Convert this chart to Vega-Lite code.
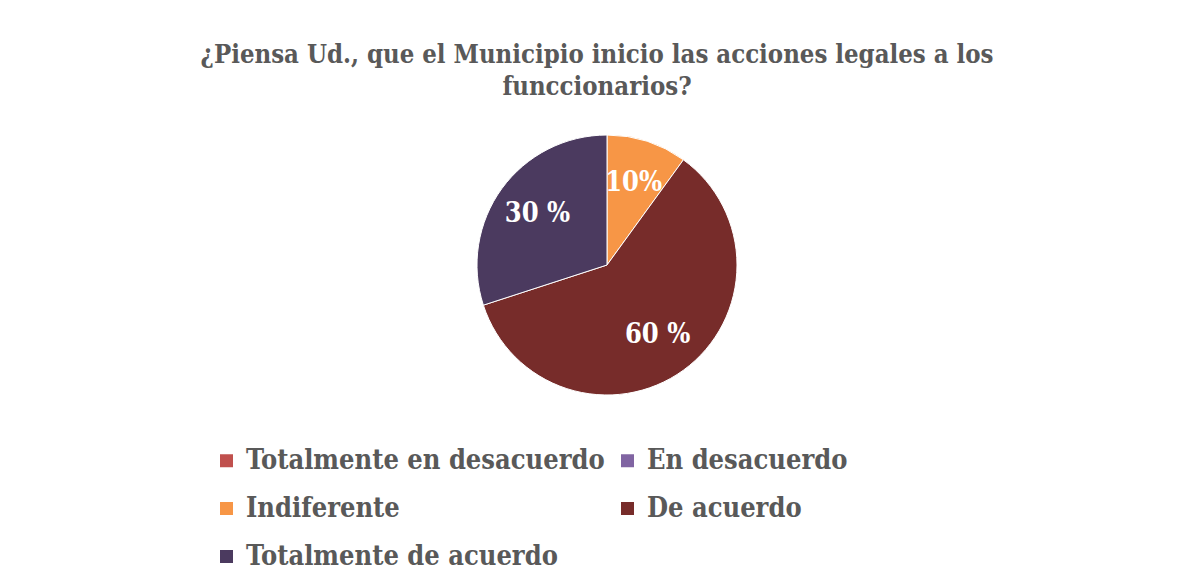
{
  "$schema": "https://vega.github.io/schema/vega-lite/v6.json",
  "autosize": {"type": "none"},
  "width": 1170,
  "height": 310,
  "padding": {"left": 22, "top": 110, "right": 0, "bottom": 167},
  "background": "white",
  "title": {
    "text": ["¿Piensa Ud., que el Municipio inicio las acciones legales a los", "funccionarios?"],
    "font": "DejaVu Serif Condensed",
    "fontSize": 25.5,
    "fontWeight": "bold",
    "color": "#595959",
    "anchor": "middle",
    "frame": "group",
    "lineHeight": 32,
    "offset": 10,
    "dx": -10
  },
  "data": {
    "values": [
      {"categoria": "Totalmente en  desacuerdo", "valor": 0, "orden": 1, "etiqueta": ""},
      {"categoria": "En desacuerdo", "valor": 0, "orden": 2, "etiqueta": ""},
      {"categoria": "Indiferente", "valor": 10, "orden": 3, "etiqueta": "10%"},
      {"categoria": "De acuerdo", "valor": 60, "orden": 4, "etiqueta": "60 %"},
      {"categoria": "Totalmente de acuerdo", "valor": 30, "orden": 5, "etiqueta": "30 %"}
    ]
  },
  "encoding": {
    "theta": {"field": "valor", "type": "quantitative", "stack": true},
    "order": {"field": "orden", "type": "quantitative"},
    "color": {
      "field": "categoria",
      "type": "nominal",
      "scale": {
        "domain": ["Totalmente en  desacuerdo", "En desacuerdo", "Indiferente", "De acuerdo", "Totalmente de acuerdo"],
        "range": ["#C0504D", "#8064A2", "#F79646", "#772C2A", "#4B3A5F"]
      },
      "legend": {
        "title": null,
        "orient": "none",
        "legendX": 191,
        "legendY": 337,
        "columns": 2,
        "direction": "horizontal",
        "symbolType": "square",
        "symbolSize": 169,
        "symbolStrokeWidth": 0,
        "labelFont": "DejaVu Serif Condensed",
        "labelFontSize": 27,
        "labelFontWeight": "bold",
        "labelColor": "#595959",
        "labelOffset": 6,
        "labelLimit": 500,
        "rowPadding": 20,
        "columnPadding": -18
      }
    }
  },
  "layer": [
    {
      "mark": {"type": "arc", "outerRadius": 130, "stroke": "white", "strokeWidth": 1}
    },
    {
      "transform": [{"filter": "datum.valor > 0"}],
      "mark": {"type": "text", "radius": 86, "font": "DejaVu Serif Condensed", "fontSize": 27, "fontWeight": "bold", "fill": "white"},
      "encoding": {
        "text": {"field": "etiqueta", "type": "nominal"},
        "color": {"value": "white"}
      }
    }
  ]
}
